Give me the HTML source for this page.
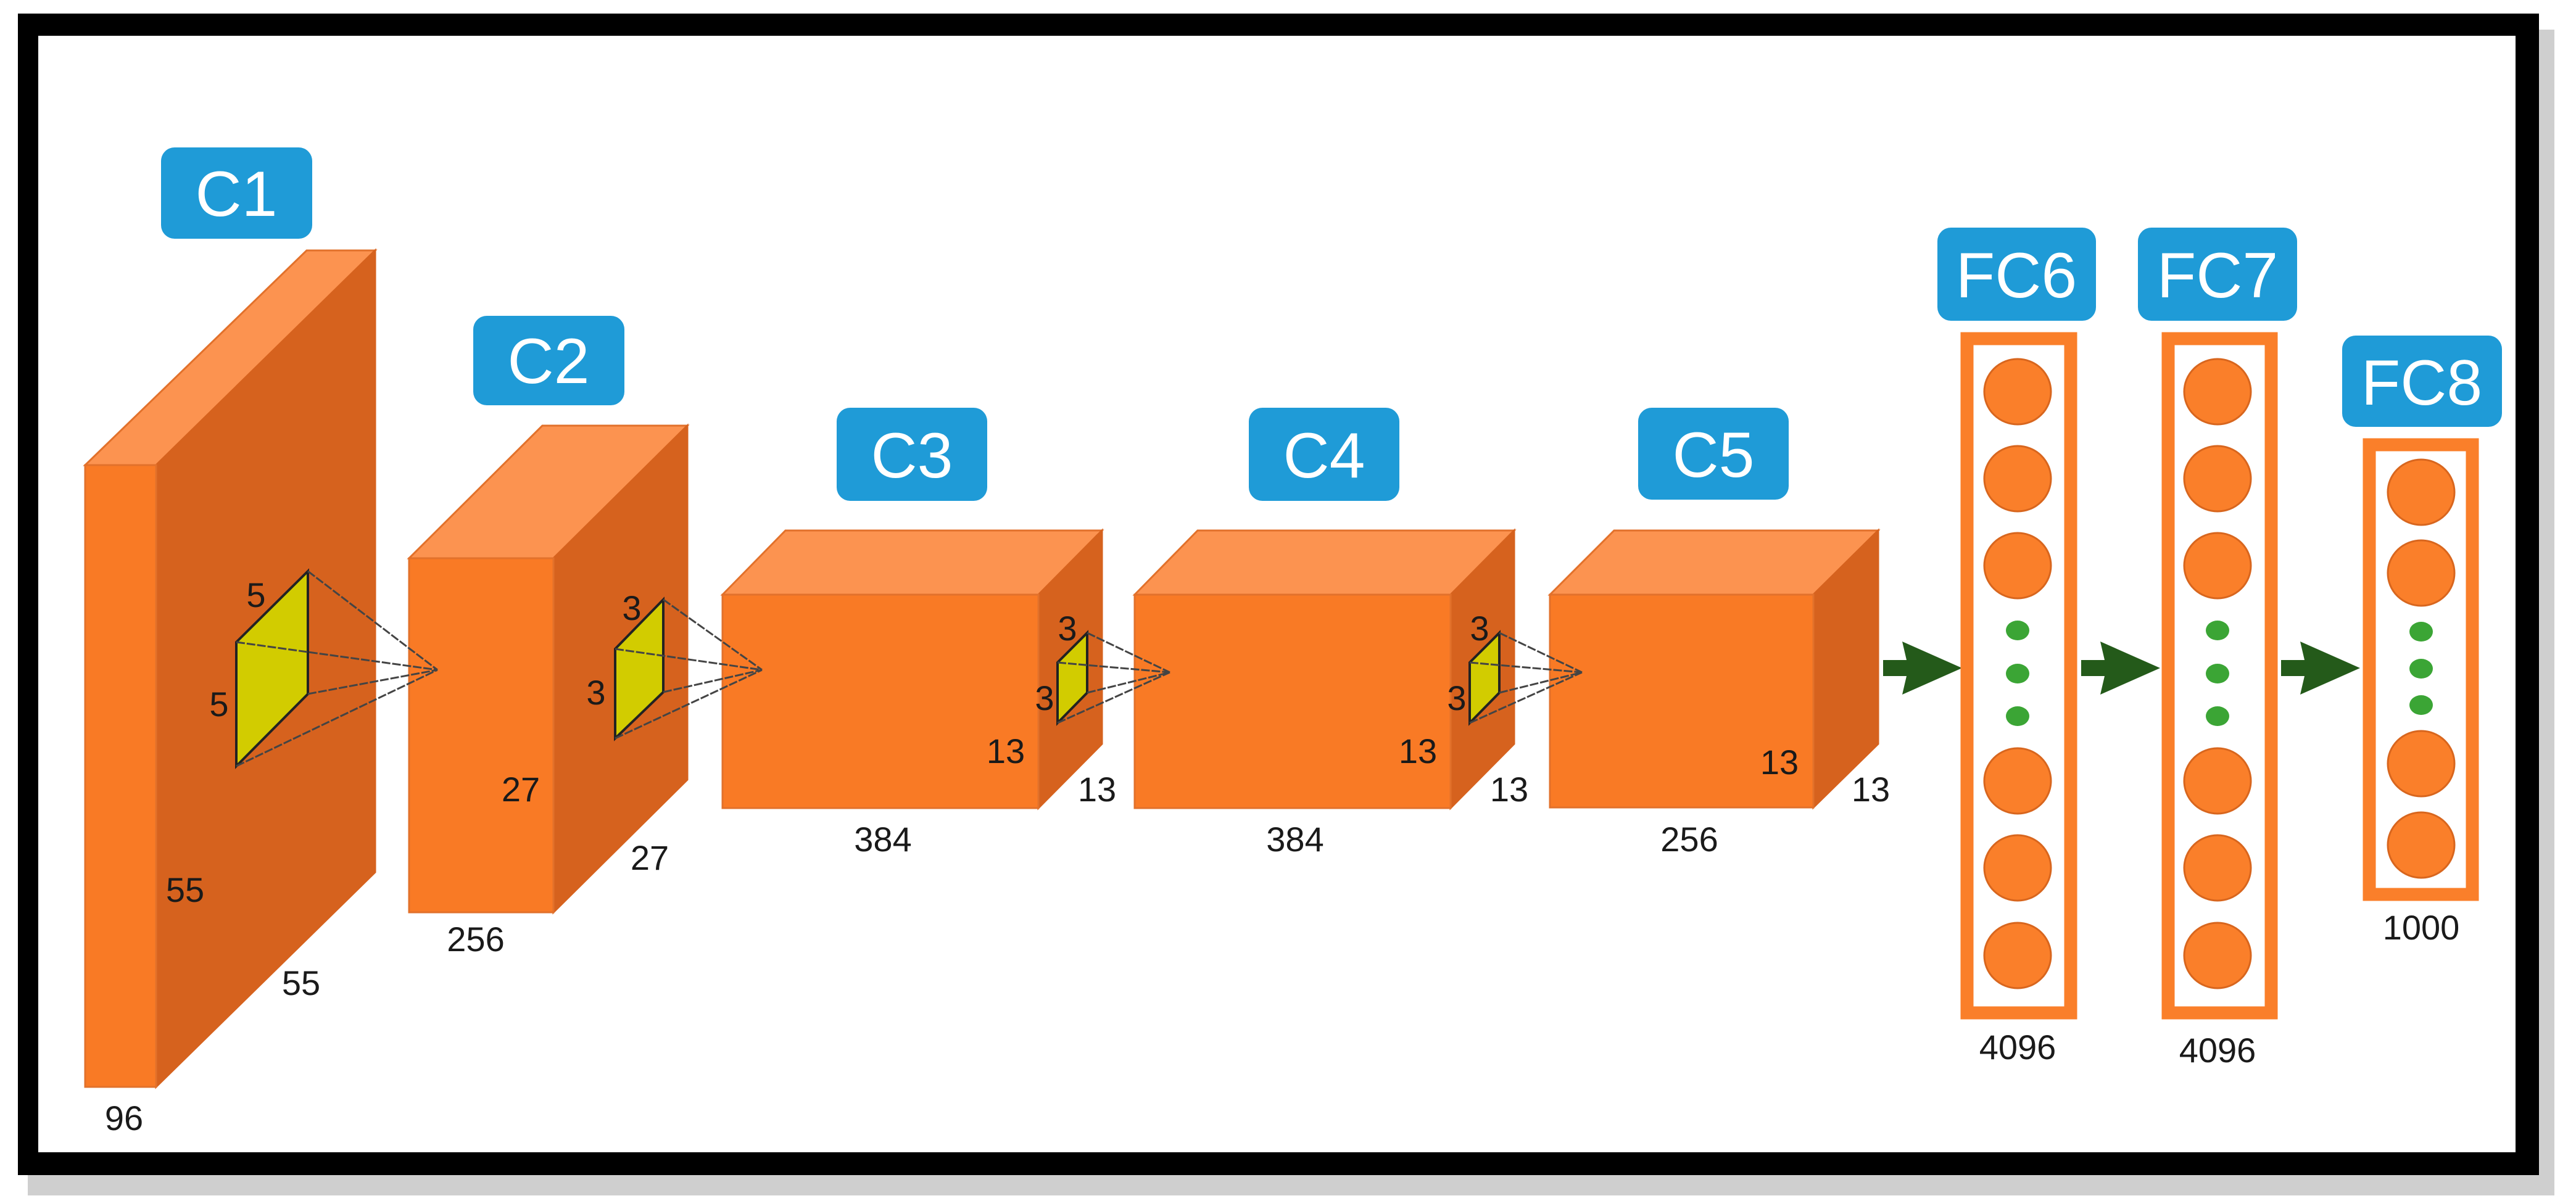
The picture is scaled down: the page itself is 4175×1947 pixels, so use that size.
<!DOCTYPE html>
<html><head><meta charset="utf-8"><style>
html,body{margin:0;padding:0;background:#fff;}
svg{display:block;}
text{font-family:"Liberation Sans Narrow","Liberation Sans",sans-serif;}
</style></head><body>
<svg width="4175" height="1947" viewBox="0 0 4175 1947" xmlns="http://www.w3.org/2000/svg">
<rect x="0" y="0" width="4175" height="1947" fill="#fff"/>
<!-- shadow -->
<rect x="45" y="48" width="4095" height="1890" fill="#cfcfcf"/>
<rect x="29" y="22" width="4086" height="1883" fill="#000"/>
<rect x="62" y="58" width="4015" height="1810" fill="#fff"/>

<g stroke-width="3">
<!-- C1 -->
<polygon points="138,754 497,406 608,406 253,754" fill="#FC9350" stroke="#E2712B"/>
<polygon points="253,754 608,406 608,1414 253,1762" fill="#D6621E" stroke="#D6621E"/>
<rect x="138" y="754" width="115" height="1008" fill="#F97A25" stroke="#E2712B"/>
<!-- C2 -->
<polygon points="663,905 879,690 1114,690 897,905" fill="#FC9350" stroke="#E2712B"/>
<polygon points="897,905 1114,690 1114,1264 897,1479" fill="#D6621E" stroke="#D6621E"/>
<rect x="663" y="905" width="234" height="574" fill="#F97A25" stroke="#E2712B"/>
<!-- C3 -->
<polygon points="1171,964 1273,860 1786,860 1683,964" fill="#FC9350" stroke="#E2712B"/>
<polygon points="1683,964 1786,860 1786,1206 1683,1310" fill="#D6621E" stroke="#D6621E"/>
<rect x="1171" y="964" width="512" height="346" fill="#F97A25" stroke="#E2712B"/>
<!-- C4 -->
<polygon points="1839,964 1941,860 2454,860 2351,964" fill="#FC9350" stroke="#E2712B"/>
<polygon points="2351,964 2454,860 2454,1206 2351,1310" fill="#D6621E" stroke="#D6621E"/>
<rect x="1839" y="964" width="512" height="346" fill="#F97A25" stroke="#E2712B"/>
<!-- C5 -->
<polygon points="2512,964 2616,860 3044,860 2939,964" fill="#FC9350" stroke="#E2712B"/>
<polygon points="2939,964 3044,860 3044,1206 2939,1309" fill="#D6621E" stroke="#D6621E"/>
<rect x="2512" y="964" width="427" height="345" fill="#F97A25" stroke="#E2712B"/>
</g>

<!-- pyramids -->
<g stroke="#222" stroke-width="4">
<polygon points="383,1041 499,926 499,1125 383,1242" fill="#D2CC00"/>
<polygon points="997,1052 1075,972 1075,1122 997,1197" fill="#D2CC00"/>
<polygon points="1714,1074 1762,1026 1762,1123 1714,1172" fill="#D2CC00"/>
<polygon points="2382,1074 2430,1026 2430,1123 2382,1172" fill="#D2CC00"/>
</g>
<g stroke="#444" stroke-width="3" stroke-dasharray="14,3" fill="none">
<path d="M383,1041L709,1086M499,926L709,1086M499,1125L709,1086M383,1242L709,1086"/>
<path d="M997,1052L1235,1086M1075,972L1235,1086M1075,1122L1235,1086M997,1197L1235,1086"/>
<path d="M1714,1074L1896,1090M1762,1026L1896,1090M1762,1123L1896,1090M1714,1172L1896,1090"/>
<path d="M2382,1074L2564,1090M2430,1026L2564,1090M2430,1123L2564,1090M2382,1172L2564,1090"/>
</g>

<!-- blue labels -->
<g fill="#1F9BD7">
<rect x="261" y="239" width="245" height="148" rx="22"/>
<rect x="767" y="512" width="245" height="145" rx="22"/>
<rect x="1356" y="661" width="244" height="151" rx="22"/>
<rect x="2024" y="661" width="244" height="151" rx="22"/>
<rect x="2655" y="661" width="244" height="149" rx="22"/>
<rect x="3140" y="369" width="257" height="151" rx="22"/>
<rect x="3465" y="369" width="258" height="151" rx="22"/>
<rect x="3796" y="544" width="259" height="148" rx="22"/>
</g>
<g fill="#fff" font-size="104" text-anchor="middle">
<text x="383" y="350">C1</text>
<text x="889" y="621">C2</text>
<text x="1478" y="774">C3</text>
<text x="2146" y="774">C4</text>
<text x="2777" y="773">C5</text>
<text x="3268" y="482">FC6</text>
<text x="3594" y="482">FC7</text>
<text x="3925" y="656">FC8</text>
</g>

<!-- arrows -->
<g fill="#245A1A">
<polygon points="3052,1070 3090,1070 3083,1040 3180,1083 3083,1126 3090,1096 3052,1096"/>
<polygon points="3373,1070 3411,1070 3404,1040 3501,1083 3404,1126 3411,1096 3373,1096"/>
<polygon points="3697,1070 3735,1070 3728,1040 3825,1083 3728,1126 3735,1096 3697,1096"/>
</g>

<!-- FC columns -->
<g fill="none" stroke="#FA7F2A" stroke-width="21">
<rect x="3188" y="549" width="168" height="1093"/>
<rect x="3514" y="549" width="167" height="1093"/>
<rect x="3840" y="721" width="167" height="729"/>
</g>
<g fill="#FA7F2A" stroke="#D8661E" stroke-width="3">
<ellipse cx="3270" cy="635" rx="54" ry="53"/><ellipse cx="3270" cy="776" rx="54" ry="53"/><ellipse cx="3270" cy="917" rx="54" ry="53"/>
<ellipse cx="3270" cy="1266" rx="54" ry="53"/><ellipse cx="3270" cy="1407" rx="54" ry="53"/><ellipse cx="3270" cy="1549" rx="54" ry="53"/>
<ellipse cx="3594" cy="635" rx="54" ry="53"/><ellipse cx="3594" cy="776" rx="54" ry="53"/><ellipse cx="3594" cy="917" rx="54" ry="53"/>
<ellipse cx="3594" cy="1266" rx="54" ry="53"/><ellipse cx="3594" cy="1407" rx="54" ry="53"/><ellipse cx="3594" cy="1549" rx="54" ry="53"/>
<ellipse cx="3924" cy="798" rx="54" ry="53"/><ellipse cx="3924" cy="929" rx="54" ry="53"/>
<ellipse cx="3924" cy="1238" rx="54" ry="53"/><ellipse cx="3924" cy="1370" rx="54" ry="53"/>
</g>
<g fill="#3BA535">
<ellipse cx="3270" cy="1022" rx="19" ry="16"/><ellipse cx="3270" cy="1092" rx="19" ry="16"/><ellipse cx="3270" cy="1161" rx="19" ry="16"/>
<ellipse cx="3594" cy="1022" rx="19" ry="16"/><ellipse cx="3594" cy="1092" rx="19" ry="16"/><ellipse cx="3594" cy="1161" rx="19" ry="16"/>
<ellipse cx="3924" cy="1024" rx="19" ry="16"/><ellipse cx="3924" cy="1084" rx="19" ry="16"/><ellipse cx="3924" cy="1143" rx="19" ry="16"/>
</g>

<!-- dimension labels -->
<g fill="#1a1a1a" font-size="56" text-anchor="middle">
<text x="415" y="984">5</text>
<text x="355" y="1161">5</text>
<text x="300" y="1462">55</text>
<text x="488" y="1613">55</text>
<text x="201" y="1832">96</text>
<text x="1024" y="1005">3</text>
<text x="966" y="1142">3</text>
<text x="844" y="1299">27</text>
<text x="1053" y="1410">27</text>
<text x="771" y="1542">256</text>
<text x="1730" y="1038">3</text>
<text x="1693" y="1151">3</text>
<text x="1630" y="1237">13</text>
<text x="1778" y="1299">13</text>
<text x="1431" y="1380">384</text>
<text x="2398" y="1038">3</text>
<text x="2361" y="1151">3</text>
<text x="2298" y="1237">13</text>
<text x="2446" y="1299">13</text>
<text x="2099" y="1380">384</text>
<text x="2884" y="1255">13</text>
<text x="3032" y="1299">13</text>
<text x="2738" y="1380">256</text>
<text x="3270" y="1717">4096</text>
<text x="3594" y="1722">4096</text>
<text x="3924" y="1523">1000</text>
</g>
</svg>
</body></html>
